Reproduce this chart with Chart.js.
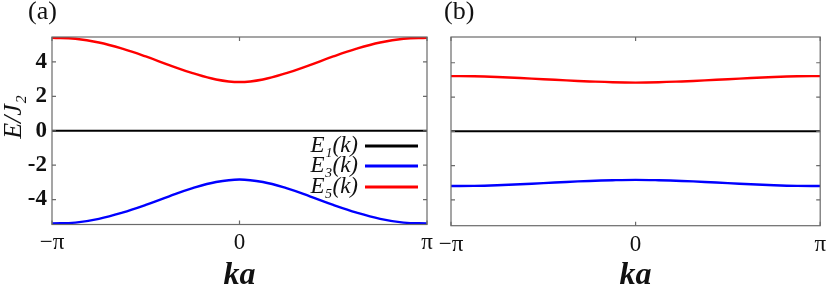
<!DOCTYPE html>
<html><head><meta charset="utf-8">
<script src="https://cdn.jsdelivr.net/npm/chart.js@4/dist/chart.umd.min.js"></script>
<style>
html,body{margin:0;padding:0;background:#fff;width:831px;height:288px;overflow:hidden;position:relative}
canvas{position:absolute;top:0}
#ca{left:0}
#cb{left:420px}
.plab{position:absolute;top:-4px;font:26px "Liberation Serif",serif;color:#111;line-height:30px}
</style></head><body>
<canvas id="ca" width="440" height="288"></canvas>
<canvas id="cb" width="411" height="288"></canvas>
<div class="plab" style="left:28px">(a)</div>
<div class="plab" style="left:444px">(b)</div>
<script>
// k values in units of pi
const kPi = [-1,-0.875,-0.75,-0.625,-0.5,-0.375,-0.25,-0.125,0,0.125,0.25,0.375,0.5,0.625,0.75,0.875,1];
const seriesNames = ['E\u2081(k)','E\u2083(k)','E\u2085(k)'];
const seriesColors = ['#000000','#0000ff','#ff0000'];
// panel (a)
const aE1 = [0,0,0,0,0,0,0,0,0,0,0,0,0,0,0,0,0];
const aE3 = [-5.39,-5.34,-5.12,-4.76,-4.31,-3.81,-3.34,-2.98,-2.83,-2.98,-3.34,-3.81,-4.31,-4.76,-5.12,-5.34,-5.39];
const aE5 = [5.41,5.35,5.13,4.77,4.32,3.82,3.35,2.98,2.83,2.98,3.35,3.82,4.32,4.77,5.13,5.35,5.41];
// panel (b)
const bE1 = [0,0,0,0,0,0,0,0,0,0,0,0,0,0,0,0,0];
const bE3 = [-3.19,-3.18,-3.14,-3.08,-3.02,-2.95,-2.89,-2.85,-2.83,-2.85,-2.89,-2.95,-3.02,-3.08,-3.14,-3.18,-3.19];
const bE5 = [3.22,3.21,3.17,3.11,3.04,2.97,2.91,2.86,2.84,2.86,2.91,2.97,3.04,3.11,3.17,3.21,3.22];
// ticks
const xTickValuesPi = [-1,0,1];
const xTickLabels = ['\u2212\u03c0','0','\u03c0'];
const yTickValues = [-4,-2,0,2,4];
const yTickLabels = ['-4','-2','0','2','4'];
const xTitle = 'ka';
const yTitle = 'E/J\u2082';

const SERIF = '"Liberation Serif", "DejaVu Serif", serif';

const frameTicks = {
  id:'frameTicks',
  afterDatasetsDraw(chart){
    const {ctx, chartArea:a, scales:{x,y}} = chart;
    ctx.save();
    ctx.strokeStyle = '#6a6a6a';
    ctx.lineWidth = 1.2;
    ctx.strokeRect(a.left, a.top, a.right-a.left, a.bottom-a.top);
    const L = 4;
    ctx.beginPath();
    xTickValuesPi.forEach(v=>{
      const px = x.getPixelForValue(v*Math.PI);
      ctx.moveTo(px, a.bottom); ctx.lineTo(px, a.bottom-L);
      ctx.moveTo(px, a.top); ctx.lineTo(px, a.top+L);
    });
    yTickValues.forEach(v=>{
      const py = y.getPixelForValue(v);
      ctx.moveTo(a.left, py); ctx.lineTo(a.left+L, py);
      ctx.moveTo(a.right, py); ctx.lineTo(a.right-L, py);
    });
    ctx.stroke();
    ctx.restore();
  }
};

const innerLegend = {
  id:'innerLegend',
  afterDraw(chart, args, opts){
    if(!opts || !opts.show) return;
    const {ctx} = chart;
    const rows = [146,166,187];
    ctx.save();
    ctx.font = 'italic 23px ' + SERIF;
    ctx.textAlign = 'right';
    ctx.textBaseline = 'middle';
    chart.data.datasets.forEach((ds,i)=>{
      const yy = rows[i];
      ctx.fillStyle = '#111';
      ctx.fillText(ds.label, 358, yy);
      ctx.strokeStyle = ds.borderColor;
      ctx.lineWidth = 3;
      ctx.beginPath(); ctx.moveTo(365, yy); ctx.lineTo(418, yy); ctx.stroke();
    });
    // rotated y-axis title
    ctx.translate(14, 117);
    ctx.rotate(-Math.PI/2);
    ctx.textAlign = 'center';
    ctx.font = 'italic 26px ' + SERIF;
    ctx.fillStyle = '#111';
    ctx.fillText(yTitle, 0, 0);
    ctx.restore();
  }
};

function makeChart(id, series, cfg){
  const datasets = series.map((vals,i)=>({
    label: seriesNames[i],
    data: kPi.map((k,j)=>({x:k*Math.PI, y:vals[j]})),
    borderColor: seriesColors[i],
    borderWidth: i===0 ? 2 : 2.4,
    pointRadius: 0,
    fill:false,
    tension:0.4
  }));
  return new Chart(document.getElementById(id), {
    type:'line',
    data:{datasets},
    plugins:[frameTicks, innerLegend],
    options:{
      responsive:false,
      animation:false,
      devicePixelRatio:1,
      layout:{padding:{top:37, right:cfg.padRight, left:0, bottom:0}},
      plugins:{legend:{display:false}, tooltip:{enabled:false}, innerLegend:{show:cfg.legend}},
      scales:{
        x:{
          type:'linear', min:-Math.PI, max:Math.PI,
          grid:{display:false, drawTicks:false},
          border:{display:false},
          afterBuildTicks(s){ s.ticks = xTickValuesPi.map(v=>({value:v*Math.PI})); },
          afterFit(s){ s.height = cfg.xHeight; },
          ticks:{
            autoSkip:false, maxRotation:0, padding:5, color:'#111',
            font:{family:SERIF, size:23},
            callback(v, i){ return xTickLabels[i]; }
          },
          title:{display:true, text:xTitle, color:'#111', padding:0,
            font:{family:SERIF, size:32, style:'italic', weight:'bold', lineHeight:0.75}}
        },
        y:{
          type:'linear', min:cfg.ymin, max:cfg.ymax,
          grid:{display:false, drawTicks:false},
          border:{display:false},
          afterBuildTicks(s){ s.ticks = yTickValues.map(v=>({value:v})); },
          afterFit(s){ s.width = cfg.yWidth; },
          ticks:{
            display:cfg.yLabels, autoSkip:false, padding:5, color:'#111',
            font:{family:SERIF, size:23, weight:'bold'},
            callback(v, i){ return yTickLabels[i]; }
          },
          title:{display:false}
        }
      }
    }
  });
}

makeChart('ca', [aE1, aE3, aE5], {padRight:13, xHeight:63.5, yWidth:52, ymin:-5.45, ymax:5.45, yLabels:true, legend:true});
makeChart('cb', [bE1, bE3, bE5], {padRight:6, xHeight:62.3, yWidth:31, ymin:-5.5, ymax:5.5, yLabels:false, legend:false});
</script>
</body></html>
